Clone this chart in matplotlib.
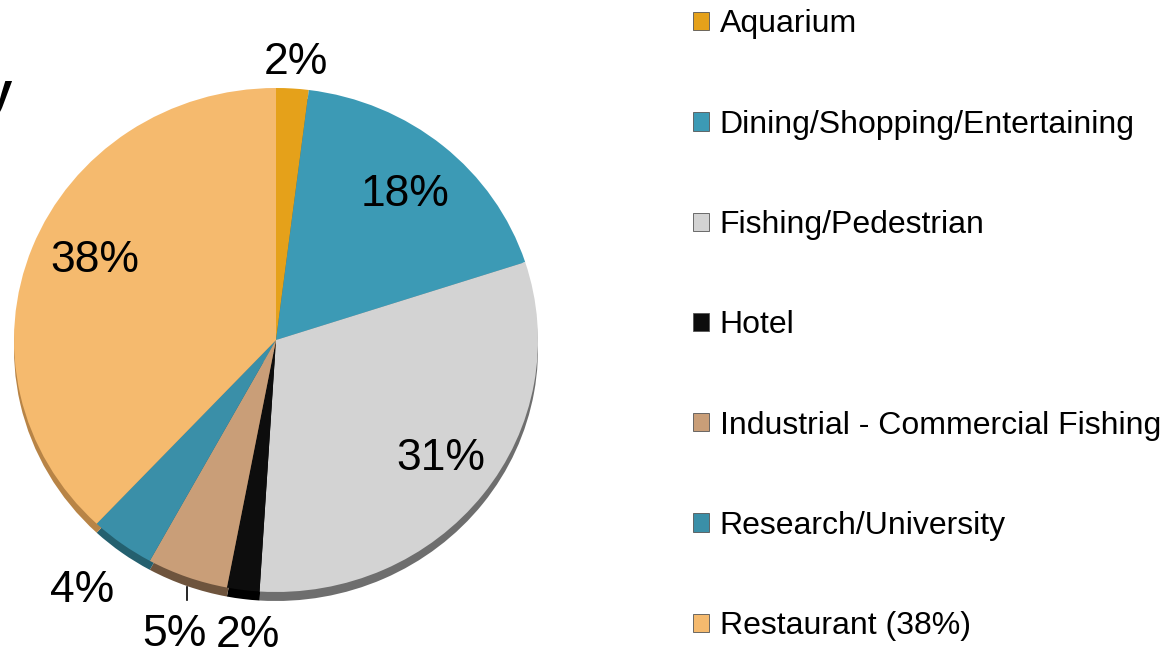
import numpy as np
import matplotlib
matplotlib.use("Agg")
import matplotlib.pyplot as plt

plt.rcParams["font.family"] = ["Liberation Sans", "DejaVu Sans"]

categories = ["Aquarium", "Dining/Shopping/Entertaining", "Fishing/Pedestrian",
              "Hotel", "Industrial - Commercial Fishing", "Research/University",
              "Restaurant (38%)"]
shares = [2, 18, 31, 2, 5, 4, 38]
pct_labels = ["2%", "18%", "31%", "2%", "5%", "4%", "38%"]

colors = ["#E5A11A", "#3C9AB5", "#D3D3D3", "#0D0D0D", "#C99E78", "#3A8FA8", "#F5BA6E"]
rim_colors = ["#9C6C0C", "#25667A", "#6E6E6E", "#000000", "#6E543D", "#24606F", "#B88446"]
# label placement: radial distance (pie radii) plus a small nudge in pixels (x right, y down)
label_dist = [1.11, 0.77, 0.78, 1.18, 1.24, 1.24, 0.76]
label_nudge = [(2, 2), (0, 4), (3, -2), (11, 0), (9, 0), (-3, -2), (4, -9)]

W, H = 1169, 656
fig = plt.figure(figsize=(W / 100, H / 100), dpi=100)
ax = fig.add_axes([0, 0, 1, 1])

# pie is a slightly flattened ellipse: 262 px wide radius, 252 px tall radius
cx_px, cy_px = 276, 340          # centre, pixels from top-left
rx_px, ry_px = 262, 252
rim = 9 / ry_px

ax.pie(shares, colors=rim_colors, startangle=90, counterclock=False,
       center=(0, -rim), radius=1, frame=True, wedgeprops=dict(linewidth=0))
wedges, _ = ax.pie(shares, colors=colors, startangle=90, counterclock=False,
                   center=(0, 0), radius=1, frame=True, wedgeprops=dict(linewidth=0))
ax.set_aspect("auto")
ax.set_xlim(-cx_px / rx_px, (W - cx_px) / rx_px)
ax.set_ylim(-(H - cy_px) / ry_px, cy_px / ry_px)
ax.axis("off")

for w, lab, d, (nx, ny) in zip(wedges, pct_labels, label_dist, label_nudge):
    mid = np.deg2rad((w.theta1 + w.theta2) / 2)
    x = d * np.cos(mid) + nx / rx_px
    y = d * np.sin(mid) - ny / ry_px
    ax.text(x, y, lab, fontsize=32, ha="center", va="center", color="black")

# leader line for the Industrial slice
w = wedges[4]
mid = np.deg2rad((w.theta1 + w.theta2) / 2)
lx, ly = np.cos(mid), np.sin(mid)
ax.plot([lx, lx], [ly - rim - 0.005, ly - 0.09], color="black", linewidth=1.2)

# clipped title fragment at the left edge
fig.text(-0.012, 0.857, "y", fontsize=34, fontweight="bold", ha="left", va="center")

leg = fig.legend(wedges, categories, loc="upper left", bbox_to_anchor=(0.5815, 1.005),
                 frameon=False, fontsize=23, handlelength=0.5, handleheight=0.5,
                 handletextpad=0.35, labelspacing=2.2, borderaxespad=0)
for h in leg.legend_handles:
    h.set_edgecolor("#555555")
    h.set_linewidth(0.6)

fig.savefig("out.png", dpi=100)
